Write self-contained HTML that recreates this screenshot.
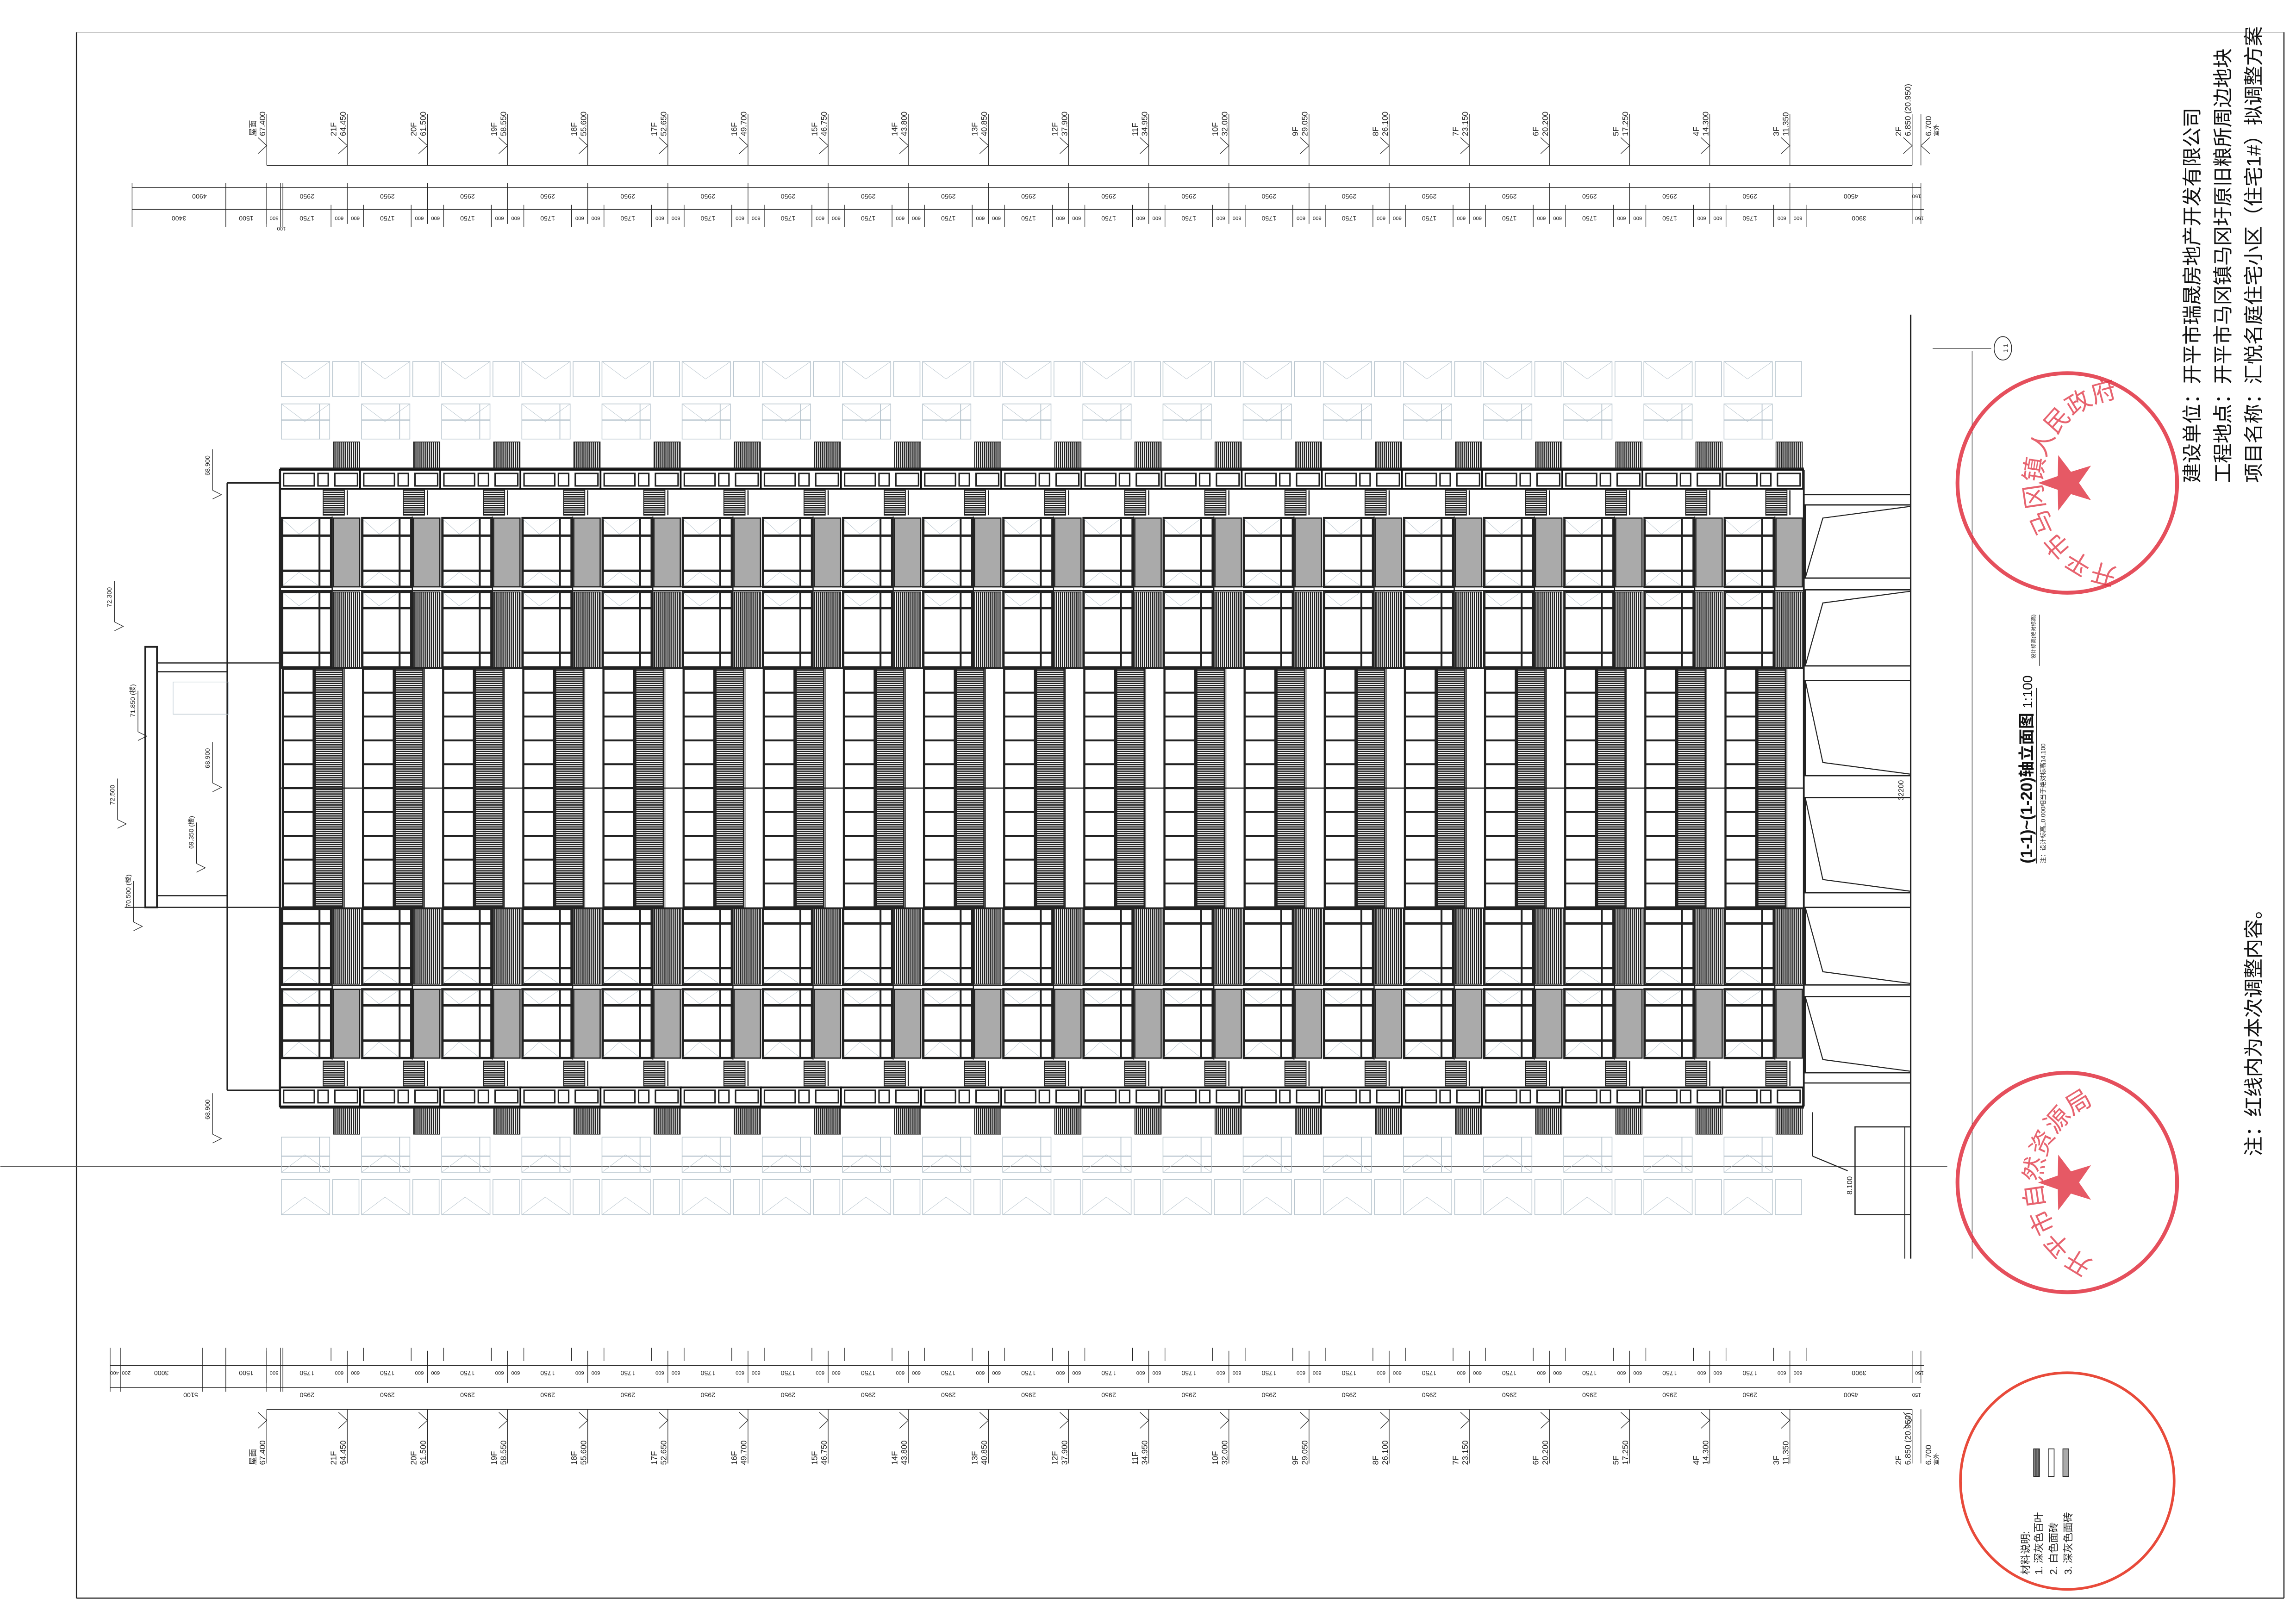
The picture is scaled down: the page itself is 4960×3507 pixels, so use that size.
<!DOCTYPE html>
<html><head><meta charset="utf-8">
<style>
html,body{margin:0;padding:0;background:#fff;}
svg{display:block;}
text{font-family:"Liberation Sans","Noto Sans CJK SC",sans-serif;}
</style></head>
<body>
<svg id="d" xmlns="http://www.w3.org/2000/svg" width="4960" height="3507" viewBox="0 0 1568 1109">
<defs>
<pattern id="vh" width="1.4" height="10" patternUnits="userSpaceOnUse"><rect width="1.4" height="10" fill="#fff"/><rect width="0.85" height="10" fill="#222"/></pattern>
<pattern id="hh" width="10" height="1.5" patternUnits="userSpaceOnUse"><rect width="10" height="1.5" fill="#fff"/><rect width="10" height="0.9" fill="#222"/></pattern>
</defs>
<g id="root"></g>
</svg>
<script>
const P=54.75;let s='';
const L=(x1,y1,x2,y2,w=0.5,c='#222')=>{s+=`<line x1="${x1}" y1="${y1}" x2="${x2}" y2="${y2}" stroke="${c}" stroke-width="${w}"/>`};
const R=(x,y,w,h,f='none',sw=0.5,c='#222')=>{s+=`<rect x="${x}" y="${y}" width="${w}" height="${h}" fill="${f}" stroke="${c}" stroke-width="${sw}"/>`};
const T=(x,y,t,fs,rot,a='start',col='#222',fw='normal',db='auto')=>{s+=`<text transform="translate(${x},${y}) rotate(${rot})" font-size="${fs}" text-anchor="${a}" fill="${col}" font-weight="${fw}" dominant-baseline="${db}">${t}</text>`};
const PL=(pts,w=0.6,c='#222',f='none')=>{s+=`<polyline points="${pts}" fill="${f}" stroke="${c}" stroke-width="${w}"/>`};

// frame
L(52,22,52,1092,0.8);L(52,1092,1560,1092,0.8);L(1560,22,1560,1092,0.8);L(52,22,1560,22,0.4,'#888');
L(0,797,1330,797,0.6,'#555');

// building half
let h0=s.length;
const G='#b9c6cf';
for(let i=0;i<19;i++){
 const x0=191+i*P;
 // ghost
 R(x0+1,247,33,24,'none',0.5,G);L(x0+1,247,x0+17,259,0.3,G);L(x0+34,247,x0+17,259,0.3,G);
 R(x0+1,276,33,24,'none',0.5,G);L(x0+1,276,x0+17,288,0.3,G);L(x0+34,276,x0+17,288,0.3,G);
 L(x0+1,287,x0+34,287,0.8,G);L(x0+27,276,x0+27,300,0.6,G);
 R(x0+36,247,18,24,'none',0.5,G);
 // dark block
 R(x0+36.5,302,18,19,'url(#vh)',0.5);
 // band
 R(x0,321,55,13,'#fff',1.2,'#111');R(x0+2.5,323.5,21,8.5,'none',1);R(x0+26,323.5,7,8.5,'none',1);R(x0+37.5,323.5,15.5,8.5,'none',1);
 // small hatch
 R(x0+29.5,335,14.5,17,'url(#hh)',0.6);L(x0+46,335,x0+46,352,0.8);
 // gray row
 R(x0+1.5,354,33.5,47,'none',1.6);L(x0+1.5,366,x0+35,366,1.6);L(x0+1.5,390,x0+35,390,1.6);L(x0+27,354,x0+27,401,1.3);
 L(x0+2,355,x0+13,365,0.3,G);L(x0+26,355,x0+13,365,0.3,G);L(x0+2,400,x0+13,391,0.3,G);L(x0+26,400,x0+13,391,0.3,G);
 R(x0+36.5,354,18,47,'#aaa',0.8);
 L(x0+35.7,353,x0+35.7,457,0.8);
 // dark row
 R(x0+1.5,404.5,33.5,51.5,'none',1.6);L(x0+1.5,415.5,x0+35,415.5,1.6);L(x0+1.5,446,x0+35,446,1.6);L(x0+27,404.5,x0+27,456,1.3);
 L(x0+2,405,x0+13,414,0.3,G);L(x0+26,405,x0+13,414,0.3,G);
 R(x0+36.5,404.5,18,51.5,'url(#vh)',0.6);
 // middle
 R(x0+2,457,21,81.5,'none',1.4);for(let k=1;k<5;k++)L(x0+2,457+k*16.3,x0+23,457+k*16.3,1.3);
 R(x0+24,457,19,81.5,'url(#hh)',1);L(x0+44,457,x0+44,538.5,0.5);
}
L(191,320,1232,320,1);L(191,401,1232,401,0.6);L(191,403.5,1232,403.5,0.6);L(191,456.5,1232,456.5,1);
L(191,321,191,538.5,1.5);L(1232,321,1232,538.5,1.2);
const half=s.slice(h0);
s+=`<g transform="translate(0,1077) scale(1,-1)">${half}</g>`;
L(191,538.5,1232,538.5,0.8);

// right ground floors
L(1232,338,1305,338,0.8);L(1232,740,1305,740,0.8);
const boxes=[[345,395],[403,455],[465,530],[545,610],[620,673],[681,733]];
boxes.forEach((b,j)=>{R(1233,b[0],72,b[1]-b[0],'none',0.9);
 if(j<2)PL(`1305,${b[0]+1} 1245,${b[0]+9} 1233,${b[1]}`,0.7);
 else PL(`1233,${b[0]} 1245,${b[1]-9} 1305,${b[1]-1}`,0.7);});
L(1305,215,1305,860,1);L(1347,240,1347,860,0.4);L(1320,238,1360,238,0.4);
s+=`<ellipse cx="1368" cy="238" rx="6" ry="8" fill="none" stroke="#222" stroke-width="0.5"/>`;T(1370,238,'1-1',4,-90,'middle','#222','normal','central');
L(1238,760,1238,790,0.7);L(1238,790,1262,800,0.7);R(1267,770,38,60,'none',0.8);L(1301,770,1301,860,0.6);
T(1300,540,'32200',5,-90,'middle');T(1265,810,'8.100',5,-90,'middle');

// left roof structure
L(155,330,155,745,1);L(155,330,191,330,1);L(155,745,191,745,1);
R(99,442,8,178,'#fff',1.2);L(107,453,191,453,0.8);L(107,459,155,459,0.8);L(107,612,155,612,0.8);L(107,620,191,620,0.8);
L(85,620,99,620,0.6);
[[143,335,'68.900'],[143,535,'68.900'],[143,775,'68.900'],[76,425,'72.300'],[92,500,'71.850 (楼)'],[78,560,'72.500'],[89,630,'70.500 (楼)'],[132,590,'69.350 (楼)']].forEach(e=>{
 T(e[0],e[1]-10,e[2],4.5,-90,'start');L(e[0]+2,e[1]-28,e[0]+2,e[1],0.4);PL(`${e[0]+2},${e[1]} ${e[0]+8},${e[1]+3} ${e[0]+2},${e[1]+6}`,0.4);});
R(118,466,38,22,'none',0.4,G);

// dimensions
const fl=[];fl.push([182,'屋面','67.400']);
for(let k=21;k>=3;k--)fl.push([237+(21-k)*P,k+'F',(67.4-(22-k)*2.95).toFixed(3)]);
const X2=1306,X0=1312;
function dims(top){
 const yA=top?113:963,yB=top?128:948,yC=top?143:933;
 const tB=top?134:953,tC=top?149:938;
 L(182,yA,X2,yA,0.5);
 L(top?90:75,yB,X0,yB,0.5);L(top?90:75,yC,X0+2,yC,0.5);
 fl.forEach((f,i)=>{const x=f[0];
  if(top){L(x,78,x,yA,0.4);PL(`${x-6},94 ${x},99.5 ${x-6},105`,0.4);T(x-1,93,f[2],5.5,-90);T(x-7.5,93,f[1],5.5,-90);}
  else{L(x,yA,x,1000,0.4);PL(`${x-6},965 ${x},970.5 ${x-6},976`,0.4);T(x-1,1001,f[2],5.5,-90);T(x-7.5,1001,f[1],5.5,-90);}
  L(x,yB-3,x,yC+(top?10:-10),0.4);
  if(i>0){L(x-11.1,yC-3,x-11.1,yC+(top?12:-12),0.4);L(x+11.1,yC-3,x+11.1,yC+(top?12:-12),0.4);
   T(x-5.5,tC,'600',3.6,180,'middle','#222','normal','central');T(x+5.5,tC,'600',3.6,180,'middle','#222','normal','central');}
  if(i>0&&i<fl.length){const xp=fl[i-1][0];T((x+xp)/2,tB,i==1?'2950':'2950',4.5,180,'middle','#222','normal','central');
   const a=(i==1?193:xp+11.1),b=x-11.1;T((a+b)/2,tC,'1750',4.5,180,'middle','#222','normal','central');}
 });
 const x3=fl[fl.length-1][0];
 T((x3+X2)/2,tB,'4500',4.5,180,'middle','#222','normal','central');T((x3+11+X2)/2,tC,'3900',4.5,180,'middle','#222','normal','central');
 T(1309,tB,'150',3.6,180,'middle','#222','normal','central');T(1311,tC,'150',3.6,180,'middle','#222','normal','central');
 [X2,X0].forEach(x=>L(x,yB-3,x,yC+(top?10:-10),0.4));
 if(top){L(X2,78,X2,yA,0.4);L(X0,78,X0,yA,0.4);PL(`${X2-6},94 ${X2},99.5 ${X2-6},105`,0.4);PL(`${X0+6},94 ${X0},99.5 ${X0+6},105`,0.4);
  T(X2-1,93,'6.850 (20.950)',5.5,-90);T(X2-7.5,93,'2F',5.5,-90);T(X0+7,93,'6.700',5.5,-90);T(X0+12,93,'室外',4,-90);
  [90,154,182,191.3,193].forEach(x=>L(x,yB-3,x,yC+12,0.4));
  T(136,tB,'4900',4.5,180,'middle','#222','normal','central');T(122,tC,'3400',4.5,180,'middle','#222','normal','central');
  T(168,tC,'1500',4.5,180,'middle','#222','normal','central');T(187,tC,'500',3.6,180,'middle','#222','normal','central');T(192,tC+7,'100',3.6,180,'middle','#222','normal','central');}
 else{L(X2,yA,X2,1000,0.4);L(X0,yA,X0,1000,0.4);PL(`${X2-6},965 ${X2},970.5 ${X2-6},976`,0.4);
  T(X2-1,1001,'6.850 (20.950)',5.5,-90);T(X2-7.5,1001,'2F',5.5,-90);T(X0+7,1001,'6.700',5.5,-90);T(X0+12,1001,'室外',4,-90);
  [75,82,138,154,182,191.3,193].forEach(x=>L(x,yB+3,x,yC-12,0.4));
  T(130,tB,'5100',4.5,180,'middle','#222','normal','central');T(110,tC,'3000',4.5,180,'middle','#222','normal','central');T(78,tC,'400',3.6,180,'middle','#222','normal','central');
  T(168,tC,'1500',4.5,180,'middle','#222','normal','central');T(187,tC,'500',3.6,180,'middle','#222','normal','central');T(86,tC,'200',3.6,180,'middle','#222','normal','central');}
}
dims(true);dims(false);

// title
T(1388,590,'(1-1)~(1-20)轴立面图 <tspan font-weight="normal" font-size="9">1:100</tspan>',11,-90,'start','#111','bold');
L(1391,470,1391,590,0.8);
T(1397,590,'注：设计标高±0.000相当于绝对标高14.100',4.3,-90,'start');
T(1390,435,'设计标高(绝对标高)',3.5,-90,'middle');L(1393,420,1393,455,0.4);

// right texts
const RT="#111";
T(1502,330,'建设单位：开平市瑞晟房地产开发有限公司',13.5,-90,'start',RT);
T(1523,330,'工程地点：开平市马冈镇马冈圩原旧粮所周边地块',13.5,-90,'start',RT);
T(1544,330,'项目名称：汇悦名庭住宅小区（住宅1#）拟调整方案',13.5,-90,'start',RT);
T(1544,790,'注：红线内为本次调整内容。',13.5,-90,'start',RT);

// stamps
const RC='#e0303f';
function star(cx,cy,r){let p=[];for(let k=0;k<10;k++){const a=-Math.PI/2+k*Math.PI/5-Math.PI/2;const rr=k%2?r*0.4:r;p.push((cx+rr*Math.cos(a)).toFixed(1)+','+(cy+rr*Math.sin(a)).toFixed(1));}s+=`<polygon points="${p.join(' ')}" fill="${RC}" opacity="0.8"/>`;}
function stamp(cx,cy,r,txt,id){
 s+=`<circle cx="${cx}" cy="${cy}" r="${r}" fill="none" stroke="${RC}" stroke-width="2.6" opacity="0.85"/>`;
 star(cx,cy,20);
 s+=`<path id="${id}" d="M ${cx-r*0.78+r*0.0} ${cy+r*0.55} A ${r*0.78} ${r*0.78} 0 1 1 ${cx+r*0.78} ${cy+r*0.55}" fill="none" transform="rotate(-90 ${cx} ${cy})"/>`;
 s+=`<text font-size="17" fill="${RC}" opacity="0.75"><textPath href="#${id}" startOffset="50%" text-anchor="middle">${txt}</textPath></text>`;
}
stamp(1412,330,75,'开平市马冈镇人民政府','sp1');
stamp(1412,808,75,'开平市自然资源局','sp2');

// legend
s+=`<ellipse cx="1412" cy="1012" rx="73" ry="74" fill="none" stroke="#e84a3a" stroke-width="1.8"/>`;
R(1389,990,4,19,'url(#vh)',0.5);R(1399,990,4,19,'#fff',0.5);R(1409,990,4,19,'#aaa',0.5);
T(1386,1076,'材料说明:',7,-90);T(1395,1076,'1. 深灰色百叶',7,-90);T(1405,1076,'2. 白色面砖',7,-90);T(1415,1076,'3. 深灰色面砖',7,-90);

document.getElementById('root').innerHTML=s;
</script>
</body></html>
